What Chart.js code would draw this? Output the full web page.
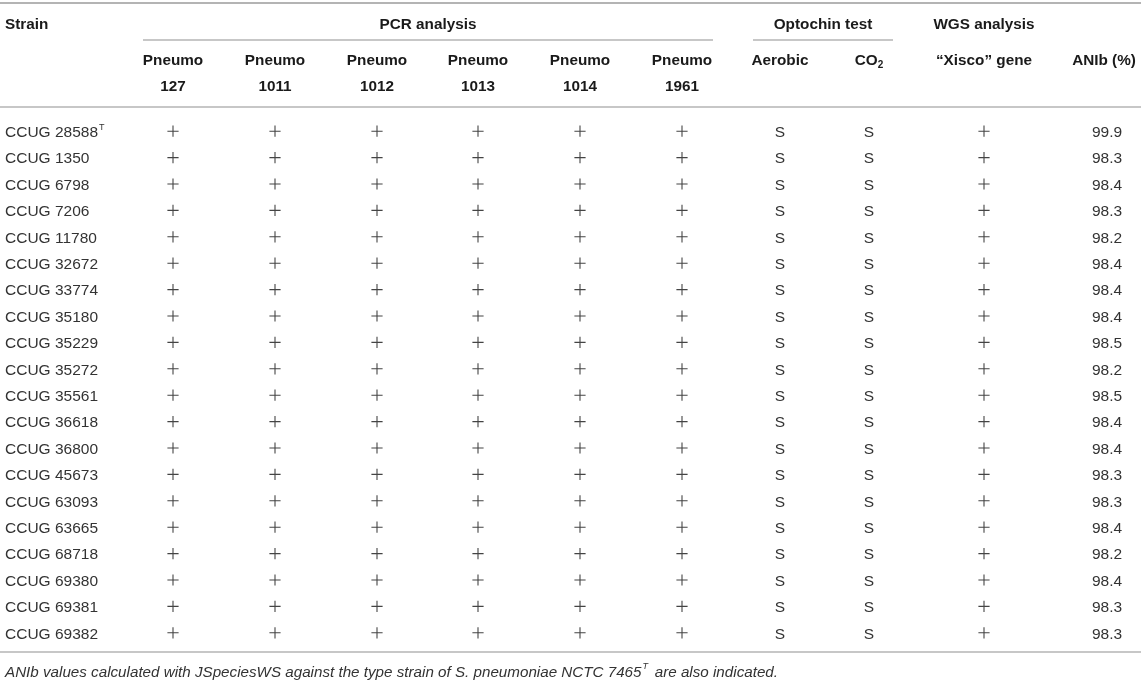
<!DOCTYPE html>
<html>
<head>
<meta charset="utf-8">
<script src="https://cdn.jsdelivr.net/npm/chart.js@4.4.1/dist/chart.umd.min.js"></script>
<style>
  body { margin: 0; background: #fff; }
  #wrap { width: 1143px; height: 682px; }
</style>
</head>
<body>
<div id="wrap"><canvas id="table" width="1143" height="682"></canvas></div>
<script>
// Datos de la tabla
const strains = ['CCUG 28588', 'CCUG 1350', 'CCUG 6798', 'CCUG 7206', 'CCUG 11780', 'CCUG 32672',
  'CCUG 33774', 'CCUG 35180', 'CCUG 35229', 'CCUG 35272', 'CCUG 35561', 'CCUG 36618',
  'CCUG 36800', 'CCUG 45673', 'CCUG 63093', 'CCUG 63665', 'CCUG 68718', 'CCUG 69380',
  'CCUG 69381', 'CCUG 69382'];
const typeStrain = 'CCUG 28588';

const pcrTargets = ['127', '1011', '1012', '1013', '1014', '1961'];
const pneumo127  = ['+', '+', '+', '+', '+', '+', '+', '+', '+', '+', '+', '+', '+', '+', '+', '+', '+', '+', '+', '+'];
const pneumo1011 = ['+', '+', '+', '+', '+', '+', '+', '+', '+', '+', '+', '+', '+', '+', '+', '+', '+', '+', '+', '+'];
const pneumo1012 = ['+', '+', '+', '+', '+', '+', '+', '+', '+', '+', '+', '+', '+', '+', '+', '+', '+', '+', '+', '+'];
const pneumo1013 = ['+', '+', '+', '+', '+', '+', '+', '+', '+', '+', '+', '+', '+', '+', '+', '+', '+', '+', '+', '+'];
const pneumo1014 = ['+', '+', '+', '+', '+', '+', '+', '+', '+', '+', '+', '+', '+', '+', '+', '+', '+', '+', '+', '+'];
const pneumo1961 = ['+', '+', '+', '+', '+', '+', '+', '+', '+', '+', '+', '+', '+', '+', '+', '+', '+', '+', '+', '+'];
const optoAerobic = ['S', 'S', 'S', 'S', 'S', 'S', 'S', 'S', 'S', 'S', 'S', 'S', 'S', 'S', 'S', 'S', 'S', 'S', 'S', 'S'];
const optoCO2     = ['S', 'S', 'S', 'S', 'S', 'S', 'S', 'S', 'S', 'S', 'S', 'S', 'S', 'S', 'S', 'S', 'S', 'S', 'S', 'S'];
const xiscoGene   = ['+', '+', '+', '+', '+', '+', '+', '+', '+', '+', '+', '+', '+', '+', '+', '+', '+', '+', '+', '+'];
const anib = [99.9, 98.3, 98.4, 98.3, 98.2, 98.4, 98.4, 98.4, 98.5, 98.2, 98.5, 98.4, 98.4, 98.3, 98.3, 98.4, 98.2, 98.4, 98.3, 98.3];

const footnote = 'ANIb values calculated with JSpeciesWS against the type strain of S. pneumoniae NCTC 7465';
const footnoteEnd = ' are also indicated.';

// Posición de las columnas (unidades del eje x)
const colX = {
  strain: 5, p127: 173, p1011: 275, p1012: 377, p1013: 478, p1014: 580, p1961: 682,
  aerobic: 780, co2: 869, xisco: 984, anib: 1107, anibHead: 1104
};
const pcrCols = [
  [pneumo127, colX.p127], [pneumo1011, colX.p1011], [pneumo1012, colX.p1012],
  [pneumo1013, colX.p1013], [pneumo1014, colX.p1014], [pneumo1961, colX.p1961]
];

const FONT = '"Liberation Sans", Arial, Helvetica, sans-serif';
const textColor = '#333';
const headColor = '#1a1a1a';
const ruleColor = '#b4b4b4';

// Un dataset por columna de "+"
function plusPoints(values, x) {
  const pts = [];
  values.forEach((v, i) => { if (v === '+') pts.push({ x: x, y: strains[i] }); });
  return pts;
}
const plusStyle = {
  pointStyle: 'cross', pointRadius: 5.6, pointBorderWidth: 1.1,
  borderColor: '#444', backgroundColor: '#444', showLine: false
};
const datasets = pcrCols.map(([vals, x], k) => Object.assign({
  label: 'Pneumo ' + pcrTargets[k], data: plusPoints(vals, x)
}, plusStyle));
datasets.push(Object.assign({ label: 'Xisco', data: plusPoints(xiscoGene, colX.xisco) }, plusStyle));

// Plugin para textos, cabeceras y reglas
const tablePlugin = {
  id: 'tablePlugin',
  afterDatasetsDraw(chart) {
    const ctx = chart.ctx;
    const xs = chart.scales.x, ys = chart.scales.y;
    const px = v => xs.getPixelForValue(v);
    ctx.save();

    function rule(x1, x2, y, w) {
      ctx.strokeStyle = ruleColor;
      ctx.lineWidth = w;
      ctx.beginPath();
      ctx.moveTo(px(x1), y);
      ctx.lineTo(px(x2), y);
      ctx.stroke();
    }
    function text(str, x, y, align, font, color) {
      ctx.font = font;
      ctx.fillStyle = color;
      ctx.textAlign = align;
      ctx.textBaseline = 'middle';
      ctx.fillText(str, x, y + 1.5);
    }
    const bold = 'bold 15.3px ' + FONT;
    const body = '15.5px ' + FONT;

    // reglas
    rule(0, 1141, 3, 2);
    rule(143, 713, 40, 1.5);
    rule(753, 893, 40, 1.5);
    rule(0, 1141, 107, 1.5);
    rule(0, 1141, 652, 1.5);

    // cabeceras
    text('Strain', px(colX.strain), 23, 'left', bold, headColor);
    text('PCR analysis', px(428), 23, 'center', bold, headColor);
    text('Optochin test', px(823), 23, 'center', bold, headColor);
    text('WGS analysis', px(colX.xisco), 23, 'center', bold, headColor);
    pcrCols.forEach(([, x], k) => {
      text('Pneumo', px(x), 59, 'center', bold, headColor);
      text(pcrTargets[k], px(x), 85, 'center', bold, headColor);
    });
    text('Aerobic', px(colX.aerobic), 59, 'center', bold, headColor);
    // CO2 con subíndice
    ctx.font = bold;
    const wCO = ctx.measureText('CO').width;
    ctx.font = 'bold 10px ' + FONT;
    const w2 = ctx.measureText('2').width;
    const co2Left = px(colX.co2) - (wCO + w2) / 2;
    text('CO', co2Left, 59, 'left', bold, headColor);
    text('2', co2Left + wCO, 64, 'left', 'bold 10px ' + FONT, headColor);
    text('\u201CXisco\u201D gene', px(colX.xisco), 59, 'center', bold, headColor);
    text('ANIb (%)', px(colX.anibHead), 59, 'center', bold, headColor);

    // filas
    strains.forEach((s, i) => {
      const y = ys.getPixelForValue(i);
      text(s, px(colX.strain), y, 'left', body, textColor);
      if (s === typeStrain) {
        ctx.font = body;
        const w = ctx.measureText(s).width;
        text('T', px(colX.strain) + w + 1, y - 5, 'left', '9px ' + FONT, textColor);
      }
      text(optoAerobic[i], px(colX.aerobic), y, 'center', body, textColor);
      text(optoCO2[i], px(colX.co2), y, 'center', body, textColor);
      text(anib[i].toFixed(1), px(colX.anib), y, 'center', body, textColor);
    });

    // nota al pie
    const it = 'italic 15.2px ' + FONT;
    text(footnote, px(colX.strain), 671, 'left', it, textColor);
    ctx.font = it;
    const wf = ctx.measureText(footnote).width;
    text('T', px(colX.strain) + wf + 1, 665, 'left', 'italic 9px ' + FONT, textColor);
    text(footnoteEnd, px(colX.strain) + wf + 9, 671, 'left', it, textColor);

    ctx.restore();
  }
};

const chart = new Chart(document.getElementById('table'), {
  type: 'scatter',
  data: { datasets: datasets },
  options: {
    responsive: false,
    animation: false,
    layout: { autoPadding: false, padding: { top: 118, bottom: 36, left: 0, right: 0 } },
    scales: {
      x: { type: 'linear', min: 0, max: 1143, display: false },
      y: { type: 'category', labels: strains, offset: true, display: false }
    },
    plugins: { legend: { display: false }, tooltip: { enabled: false } }
  },
  plugins: [tablePlugin]
});
</script>
</body>
</html>
